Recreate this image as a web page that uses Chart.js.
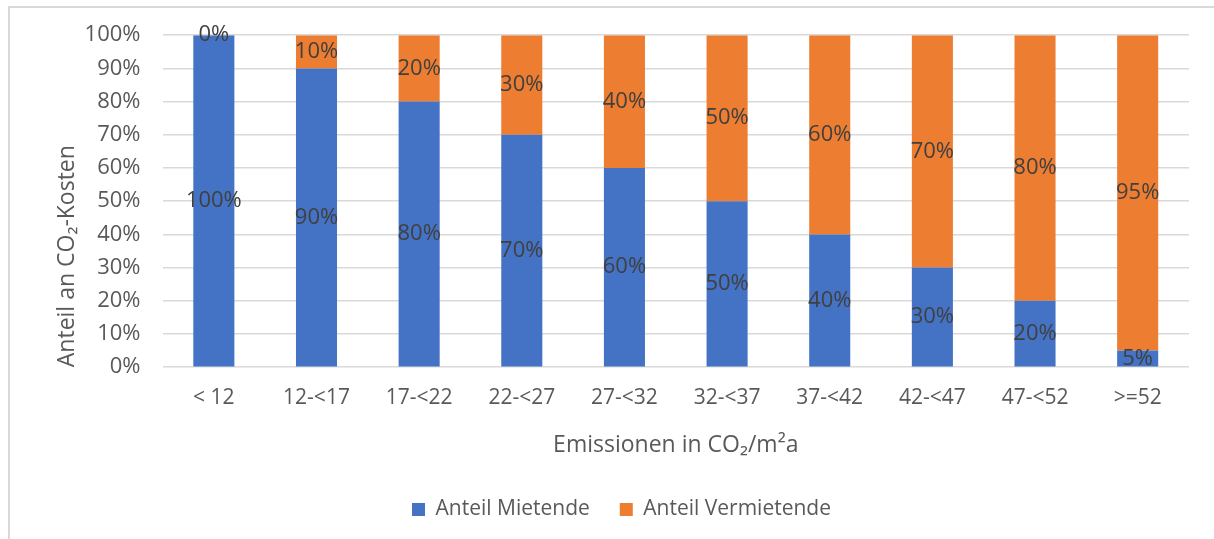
<!DOCTYPE html>
<html lang="de">
<head>
<meta charset="utf-8">
<title>Anteil an CO2-Kosten</title>
<script src="https://cdn.jsdelivr.net/npm/chart.js@4"></script>
<style>
  body { margin: 0; background: #fff; }
  #wrap { position: relative; width: 1214px; height: 539px; overflow: hidden; }
  #frame { position: absolute; left: 8px; top: 6px; width: 1240px; height: 560px; border: 2px solid #d9d9d9; }
  #chart { position: absolute; left: 0; top: 0; }
</style>
</head>
<body>
<div id="wrap">
  <div id="frame"></div>
  <canvas id="chart" width="1214" height="539"></canvas>
</div>
<script>
// Kategorien (Emissionen in CO2/m²a)
const kategorien = ['< 12', '12-<17', '17-<22', '22-<27', '27-<32', '32-<37', '37-<42', '42-<47', '47-<52', '>=52'];

// Anteile in Prozent
const anteilMietende = [100, 90, 80, 70, 60, 50, 40, 30, 20, 5];
const anteilVermietende = [0, 10, 20, 30, 40, 50, 60, 70, 80, 95];

// Achsenbeschriftung y
const yTicks = [0, 10, 20, 30, 40, 50, 60, 70, 80, 90, 100];

const schrift = '"Open Sans", "Noto Sans", sans-serif';

// Beschriftung mittig in jedem Segment
const segmentLabels = {
    id: 'segmentLabels',
    afterDatasetsDraw(chart) {
        const ctx = chart.ctx;
        ctx.save();
        ctx.font = '22px ' + schrift;
        ctx.fillStyle = '#404040';
        ctx.textAlign = 'center';
        ctx.textBaseline = 'middle';
        chart.data.datasets.forEach(function (ds, i) {
            chart.getDatasetMeta(i).data.forEach(function (bar, j) {
                const p = bar.getProps(['x', 'y', 'base'], true);
                ctx.fillText(ds.data[j] + '%', p.x, (p.y + p.base) / 2);
            });
        });
        ctx.restore();
    }
};

const ctx = document.getElementById('chart').getContext('2d');
new Chart(ctx, {
    type: 'bar',
    data: {
        labels: kategorien,
        datasets: [{
            label: 'Anteil Mietende',
            data: anteilMietende,
            backgroundColor: '#4472C4'
        }, {
            label: 'Anteil Vermietende',
            data: anteilVermietende,
            backgroundColor: '#ED7D31'
        }]
    },
    options: {
        responsive: false,
        animation: false,
        barPercentage: 0.5,
        categoryPercentage: 0.8,
        layout: {
            padding: { left: 54, top: 34, right: 25, bottom: 9 }
        },
        scales: {
            x: {
                stacked: true,
                grid: { display: false },
                border: { display: false },
                ticks: {
                    color: '#595959',
                    font: { family: schrift, size: 21 },
                    padding: 10
                },
                title: {
                    display: true,
                    text: 'Emissionen in CO₂/m²a',
                    color: '#595959',
                    font: { family: schrift, size: 23 },
                    padding: { top: 11, bottom: 10 }
                }
            },
            y: {
                stacked: true,
                min: 0,
                max: 100,
                afterBuildTicks(scale) {
                    scale.ticks = yTicks.map(function (v) { return { value: v }; });
                },
                grid: { color: '#d9d9d9', lineWidth: 1.5, drawTicks: false },
                border: { display: false },
                ticks: {
                    color: '#595959',
                    font: { family: schrift, size: 22 },
                    padding: 22,
                    callback: function (v) { return v + '%'; }
                },
                title: {
                    display: true,
                    text: 'Anteil an CO₂-Kosten',
                    align: 'start',
                    color: '#595959',
                    font: { family: schrift, size: 23 },
                    padding: { top: 0, bottom: -19 }
                }
            }
        },
        plugins: {
            legend: {
                position: 'bottom',
                labels: {
                    color: '#595959',
                    font: { family: schrift, size: 21 },
                    boxWidth: 13,
                    boxHeight: 13,
                    padding: 30
                }
            },
            tooltip: { enabled: false }
        }
    },
    plugins: [segmentLabels]
});
</script>
</body>
</html>
